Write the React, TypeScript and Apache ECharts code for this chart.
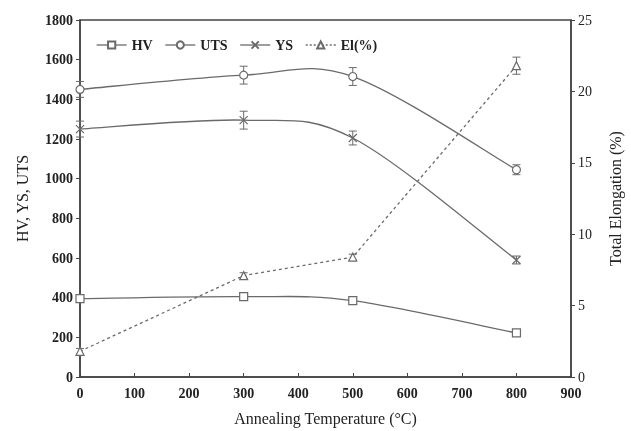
import React, { useEffect, useRef } from "react";
import * as echarts from "echarts";

const temps = [0, 300, 500, 800];
const hv = [395, 405, 385, 222];
const hvErr = [10, 12, 10, 10];
const uts = [1450, 1522, 1515, 1045];
const utsErr = [40, 45, 45, 25];
const ys = [1250, 1295, 1205, 590];
const ysErr = [40, 45, 35, 20];
const el = [1.8, 7.1, 8.4, 21.8];
const elErr = [0.2, 0.2, 0.2, 0.6];

const FONT = "Liberation Serif";
const GRAY = "#6a6a6a";
const AX = "#444";

function errSeries(vals: number[], errs: number[], yAxisIndex: number) {
  return {
    type: "custom",
    yAxisIndex,
    silent: true,
    z: 3,
    data: temps.map((t, i) => [t, vals[i] - errs[i], vals[i] + errs[i]]),
    renderItem: (params: any, api: any) => {
      const lo = api.coord([api.value(0), api.value(1)]);
      const hi = api.coord([api.value(0), api.value(2)]);
      const w = 4;
      const st = { stroke: GRAY, lineWidth: 1 };
      return {
        type: "group",
        children: [
          { type: "line", shape: { x1: lo[0], y1: lo[1], x2: hi[0], y2: hi[1] }, style: st },
          { type: "line", shape: { x1: lo[0] - w, y1: lo[1], x2: lo[0] + w, y2: lo[1] }, style: st },
          { type: "line", shape: { x1: hi[0] - w, y1: hi[1], x2: hi[0] + w, y2: hi[1] }, style: st },
        ],
      };
    },
  };
}

// Excel-like (Catmull-Rom) smoothed curve through the data points
function curveSeries(vals: number[]) {
  return {
    type: "custom",
    silent: true,
    z: 2,
    data: temps.map((t, i) => [t, vals[i]]),
    renderItem: (params: any, api: any) => {
      const i = params.dataIndex;
      const n = temps.length;
      if (i >= n - 1) return null;
      const p = (k: number) => {
        const j = Math.max(0, Math.min(n - 1, k));
        return api.coord([temps[j], vals[j]]);
      };
      const p0 = p(i - 1), p1 = p(i), p2 = p(i + 1), p3 = p(i + 2);
      const c1 = [p1[0] + (p2[0] - p0[0]) / 6, p1[1] + (p2[1] - p0[1]) / 6];
      const c2 = [p2[0] - (p3[0] - p1[0]) / 6, p2[1] - (p3[1] - p1[1]) / 6];
      return {
        type: "bezierCurve",
        shape: { x1: p1[0], y1: p1[1], x2: p2[0], y2: p2[1], cpx1: c1[0], cpy1: c1[1], cpx2: c2[0], cpy2: c2[1] },
        style: { stroke: GRAY, lineWidth: 1.3, fill: "none" },
      };
    },
  };
}

export default function App() {
  const ref = useRef<HTMLDivElement>(null);
  useEffect(() => {
    if (!ref.current) return;
    const chart = echarts.init(ref.current, undefined, { renderer: "svg" });
    const lineBase = {
      type: "line",
      symbolSize: 8,
      lineStyle: { color: GRAY, width: 1.3, opacity: 0 },
      itemStyle: { color: "#fff", borderColor: GRAY, borderWidth: 1.2 },
      z: 4,
    };
    const legLine = { color: GRAY, width: 1.3, opacity: 1 };
    chart.setOption({
      animation: false,
      textStyle: { fontFamily: FONT },
      grid: { left: 80, right: 57, top: 20, bottom: 46, show: true, borderColor: AX, borderWidth: 1.5, backgroundColor: "transparent" },
      legend: {
        left: 91,
        top: 33,
        itemWidth: 30,
        itemHeight: 9,
        itemGap: 12,
        textStyle: { fontFamily: FONT, fontSize: 14, fontWeight: "bold", color: "#222" },
        data: [
          { name: "HV", lineStyle: legLine },
          { name: "UTS", lineStyle: legLine },
          { name: "YS", lineStyle: legLine },
          { name: "El(%)", lineStyle: { ...legLine, type: [2, 2] } },
        ],
      },
      xAxis: {
        type: "value",
        min: 0,
        max: 900,
        interval: 100,
        name: "Annealing Temperature (°C)",
        nameLocation: "middle",
        nameGap: 33,
        nameTextStyle: { fontFamily: FONT, fontSize: 16, color: "#222" },
        axisLine: { lineStyle: { color: AX, width: 1.5 } },
        axisTick: { inside: true, length: 4, lineStyle: { color: AX } },
        axisLabel: { fontFamily: FONT, fontSize: 14, fontWeight: "bold", color: "#222", margin: 9, formatter: (v: number) => String(v) },
        splitLine: { show: false },
      },
      yAxis: [
        {
          type: "value",
          min: 0,
          max: 1800,
          interval: 200,
          name: "HV, YS, UTS",
          nameLocation: "middle",
          nameGap: 50,
          nameTextStyle: { fontFamily: FONT, fontSize: 16, color: "#222" },
          axisLine: { show: true, lineStyle: { color: AX, width: 1.5 } },
          axisTick: { length: 4, lineStyle: { color: AX } },
          axisLabel: { fontFamily: FONT, fontSize: 14, fontWeight: "bold", color: "#222", margin: 7, formatter: (v: number) => String(v) },
          splitLine: { show: false },
        },
        {
          type: "value",
          min: 0,
          max: 25,
          interval: 5,
          name: "Total Elongation (%)",
          nameLocation: "middle",
          nameGap: 36,
          nameRotate: 90,
          nameTextStyle: { fontFamily: FONT, fontSize: 16, color: "#222" },
          axisLine: { show: true, lineStyle: { color: AX, width: 1.5 } },
          axisTick: { length: 4, lineStyle: { color: AX } },
          axisLabel: { fontFamily: FONT, fontSize: 14, color: "#222", margin: 7 },
          splitLine: { show: false },
        },
      ],
      series: [
        { ...lineBase, name: "HV", symbol: "rect", data: temps.map((t, i) => [t, hv[i]]) },
        { ...lineBase, name: "UTS", symbol: "circle", data: temps.map((t, i) => [t, uts[i]]) },
        {
          ...lineBase,
          name: "YS",
          symbol: "path://M0,0L10,10M10,0L0,10",
          data: temps.map((t, i) => [t, ys[i]]),
        },
        {
          ...lineBase,
          name: "El(%)",
          symbol: "triangle",
          yAxisIndex: 1,
          lineStyle: { color: GRAY, width: 1.3, type: [3, 3], opacity: 1 },
          data: temps.map((t, i) => [t, el[i]]),
        },
        curveSeries(hv),
        curveSeries(uts),
        curveSeries(ys),
        errSeries(hv, hvErr, 0),
        errSeries(uts, utsErr, 0),
        errSeries(ys, ysErr, 0),
        errSeries(el, elErr, 1),
      ],
    });
    return () => chart.dispose();
  }, []);
  return <div ref={ref} style={{ width: 631, height: 431, position: "fixed", left: 0, top: 0 }} />;
}
